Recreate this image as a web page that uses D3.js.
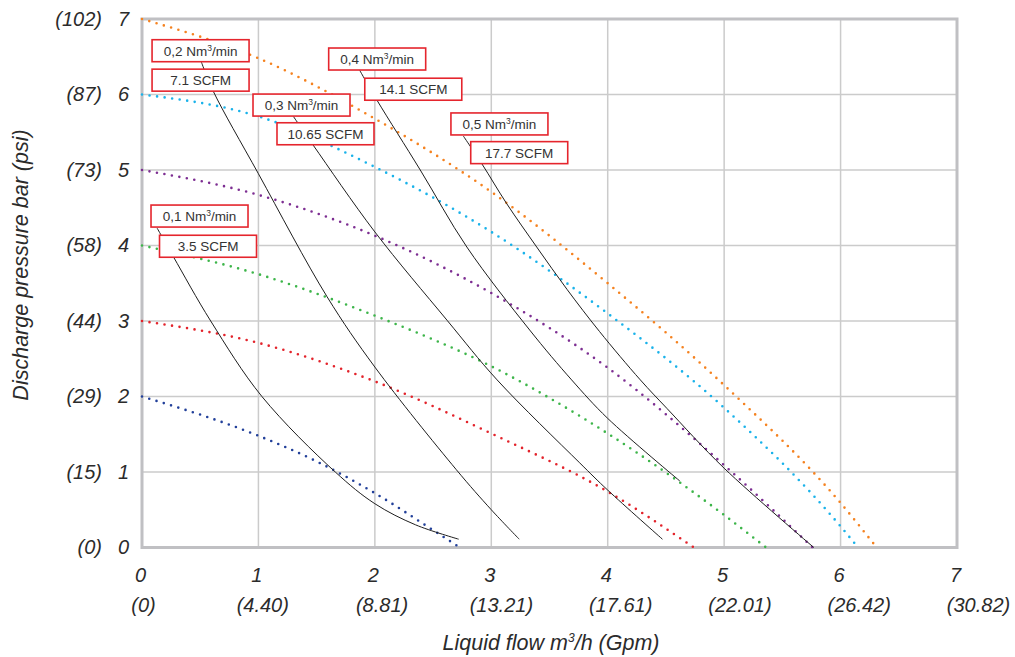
<!DOCTYPE html>
<html>
<head>
<meta charset="utf-8">
<script src="https://cdn.jsdelivr.net/npm/d3@7"></script>
<style>
  html, body { margin: 0; padding: 0; background: #fff; }
  svg { display: block; }
  .ax text { font-family: "Liberation Sans", Arial, sans-serif; font-style: italic; font-size: 20px; fill: #2b2b2b; }
  .ax .domain { display: none; }
  .lbl text { font-family: "Liberation Sans", Arial, sans-serif; font-size: 13.5px; fill: #333; }
</style>
</head>
<body>
<script>
// ---- data ----
const xTicks = [0, 1, 2, 3, 4, 5, 6, 7];
const gpmLabels = ["(0)", "(4.40)", "(8.81)", "(13.21)", "(17.61)", "(22.01)", "(26.42)", "(30.82)"];
const yTicks = [0, 1, 2, 3, 4, 5, 6, 7];
const psiLabels = ["(0)", "(15)", "(29)", "(44)", "(58)", "(73)", "(87)", "(102)"];

// pressure curves [flow m3/h, bar]
const curve2bar = [[0, 2], [1, 1.48], [1.5, 1.14], [2, 0.72], [2.5, 0.23], [2.73, 0]];
const curve3bar = [[0, 3], [1, 2.71], [2, 2.2], [3, 1.51], [4, 0.74], [4.74, 0]];
const curve4bar = [[0, 4], [1, 3.62], [2, 3.07], [3, 2.4], [4, 1.51], [5, 0.43], [5.36, 0]];
const curve5bar = [[0, 5], [1, 4.67], [2, 4.13], [3, 3.37], [4, 2.38], [5, 1.09], [5.76, 0]];
const curve6bar = [[0, 6], [1, 5.71], [2, 5.04], [3, 4.18], [4, 3.1], [5, 1.85], [6, 0.28], [6.15, 0]];
const curve7bar = [[0, 7], [1, 6.48], [2, 5.68], [3, 4.71], [4, 3.5], [5, 2.15], [6, 0.59], [6.31, 0]];
const pressureCurves = [curve2bar, curve3bar, curve4bar, curve5bar, curve6bar, curve7bar];
const pressureColors = ["#22409a", "#e3232b", "#3db54a", "#7d2e92", "#19b2ea", "#f5821f"];

// air consumption curves
const air01 = [[0.13, 4.23], [0.27, 3.85], [0.59, 3.0], [1.03, 2.0], [1.66, 1.0], [2.0, 0.58], [2.35, 0.3], [2.72, 0.11]];
const air02 = [[0.51, 6.43], [0.61, 6.05], [1.0, 4.95], [1.59, 3.32], [2.0, 2.39], [2.7, 1.03], [3.0, 0.5], [3.24, 0.11]];
const air03 = [[1.30, 5.71], [1.47, 5.33], [2.0, 4.18], [2.62, 3.01], [3.05, 2.22], [3.76, 1.12], [4.0, 0.76], [4.47, 0.11]];
const air04 = [[1.87, 6.32], [2.02, 5.92], [2.39, 5.0], [2.79, 3.98], [3.33, 2.88], [3.69, 2.22], [4.0, 1.71], [4.62, 0.88]];
const air05 = [[2.76, 5.45], [2.92, 5.08], [3.13, 4.56], [3.39, 3.98], [3.65, 3.42], [3.93, 2.86], [4.28, 2.22], [4.51, 1.84], [5.0, 1.05], [5.77, 0]];
const airCurves = [air01, air02, air03, air04, air05];

// label annotations: [text, flow, bar] (box centre)
const nmLabels = [["0,1 Nm³/min", 0.494, 4.39], ["0,2 Nm³/min", 0.503, 6.58], ["0,3 Nm³/min", 1.37, 5.86], ["0,4 Nm³/min", 2.02, 6.47], ["0,5 Nm³/min", 3.07, 5.61]];
const scfmLabels = [["3.5 SCFM", 0.567, 3.99], ["7.1 SCFM", 0.503, 6.19], ["10.65 SCFM", 1.576, 5.48], ["14.1 SCFM", 2.33, 6.07], ["17.7 SCFM", 3.24, 5.23]];

// ---- drawing ----
const W = 1015, H = 657;
const svg = d3.select("body").append("svg").attr("width", W).attr("height", H);
const pL = 142, pR = 957, pT = 19, pB = 547.5;
const x = d3.scaleLinear().domain([0, 7]).range([pL, pR]);
const xGpm = d3.scaleLinear().domain([0, 7]).range([143, 978]);
const y = d3.scaleLinear().domain([0, 7]).range([pB, pT]);

// grid
const grid = svg.append("g");
grid.selectAll("line.v").data(xTicks.slice(1, -1)).join("line")
  .attr("x1", d => x(d)).attr("x2", d => x(d)).attr("y1", pT).attr("y2", pB)
  .attr("stroke", "#cbcbcb").attr("stroke-width", 1.5);
grid.selectAll("line.h").data(yTicks.slice(1, -1)).join("line")
  .attr("x1", pL).attr("x2", pR).attr("y1", d => y(d)).attr("y2", d => y(d))
  .attr("stroke", "#cbcbcb").attr("stroke-width", 1.5);
svg.append("rect").attr("x", pL).attr("y", pT).attr("width", pR - pL).attr("height", pB - pT)
  .attr("fill", "none").attr("stroke", "#c0c0c3").attr("stroke-width", 3);

// axes labels
svg.append("g").attr("class", "ax").attr("transform", `translate(${pL - 13},0)`)
  .call(d3.axisLeft(y).tickValues(yTicks).tickSize(0).tickPadding(0).tickFormat(d3.format("d")));
svg.append("g").attr("class", "ax").attr("transform", `translate(${pL - 40},0)`)
  .call(d3.axisLeft(y).tickValues(yTicks).tickSize(0).tickPadding(0).tickFormat((d, i) => psiLabels[i]));
svg.append("g").attr("class", "ax").attr("transform", `translate(-2,${pB + 20})`)
  .call(d3.axisBottom(x).tickValues(xTicks).tickSize(0).tickPadding(0).tickFormat(d3.format("d")));
svg.append("g").attr("class", "ax").attr("transform", `translate(0,${pB + 50})`)
  .call(d3.axisBottom(xGpm).tickValues(xTicks).tickSize(0).tickPadding(0).tickFormat((d, i) => gpmLabels[i]));
svg.selectAll(".ax line").remove();

const titleStyle = s => s.attr("font-family", "Liberation Sans, Arial, sans-serif").attr("font-style", "italic")
  .attr("font-size", 21.5).attr("fill", "#2b2b2b");
const xt = svg.append("text").attr("x", 551).attr("y", 650).attr("text-anchor", "middle").call(titleStyle);
xt.append("tspan").text("Liquid flow m");
xt.append("tspan").text("3").attr("font-size", 12).attr("dy", -8);
xt.append("tspan").text("/h (Gpm)").attr("dy", 8);
svg.append("text").attr("transform", "translate(28,265) rotate(-90)").attr("text-anchor", "middle")
  .call(titleStyle).text("Discharge pressure bar (psi)");

const line = d3.line().x(d => x(d[0])).y(d => y(d[1])).curve(d3.curveMonotoneX);
const smooth = d3.line().x(d => x(d[0])).y(d => y(d[1])).curve(d3.curveCatmullRom.alpha(0.5));

// pressure dotted curves
svg.append("g").selectAll("path").data(pressureCurves).join("path")
  .attr("d", line).attr("fill", "none")
  .attr("stroke", (d, i) => pressureColors[i]).attr("stroke-width", 2.6)
  .attr("stroke-linecap", "round").attr("stroke-dasharray", "0 7.6");

// air black curves
svg.append("g").selectAll("path").data(airCurves).join("path")
  .attr("d", smooth).attr("fill", "none").attr("stroke", "#1e1e1e").attr("stroke-width", 1);

// label boxes
function drawLabels(arr) {
  const g = svg.append("g").attr("class", "lbl").selectAll("g").data(arr).join("g")
    .attr("transform", d => `translate(${x(d[1])},${y(d[2])})`);
  g.append("rect").attr("x", -48.5).attr("y", -11).attr("width", 97).attr("height", 22)
    .attr("fill", "#fff").attr("stroke", "#e5252d").attr("stroke-width", 1.6);
  g.each(function (d) {
    const t = d3.select(this).append("text").attr("text-anchor", "middle").attr("y", 5);
    const parts = d[0].split("³");
    t.append("tspan").text(parts[0]);
    if (parts.length > 1) {
      t.append("tspan").text("3").attr("font-size", 8.5).attr("dy", -5);
      t.append("tspan").text(parts[1]).attr("dy", 5);
    }
  });
}
drawLabels(nmLabels);
drawLabels(scfmLabels);
</script>
</body>
</html>
